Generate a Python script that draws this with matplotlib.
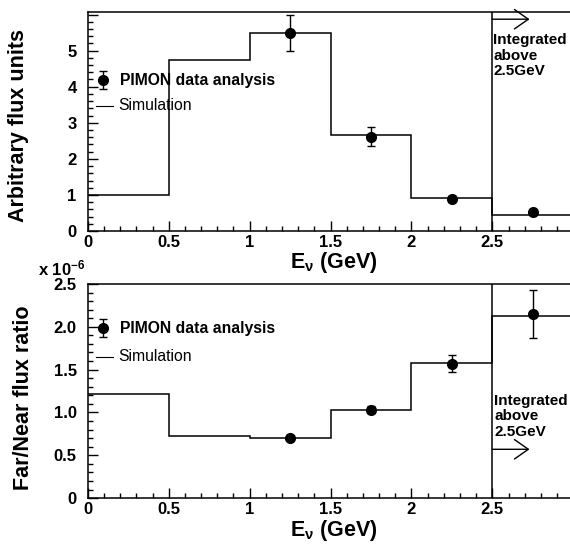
import matplotlib
matplotlib.use("Agg")
import matplotlib.pyplot as plt
from matplotlib.ticker import MultipleLocator, FuncFormatter

plt.rcParams['font.family'] = ['Liberation Sans', 'DejaVu Sans']
plt.rcParams['mathtext.fontset'] = 'custom'
plt.rcParams['mathtext.rm'] = 'Liberation Sans'
plt.rcParams['mathtext.bf'] = 'Liberation Sans:bold'
plt.rcParams['mathtext.it'] = 'Liberation Sans:italic'

# Data
bin_edges = [0.0, 0.5, 1.0, 1.5, 2.0, 2.5, 3.0]
flux_sim = [1.0, 4.74, 5.5, 2.66, 0.91, 0.44]
flux_data_x = [1.25, 1.75, 2.25, 2.75]
flux_data_y = [5.48, 2.62, 0.88, 0.52]
flux_data_err = [0.5, 0.25, 0.08, 0.07]

ratio_sim = [1.22, 0.73, 0.70, 1.03, 1.58, 2.13]   # x 1e-6
ratio_data_x = [1.25, 1.75, 2.25, 2.75]
ratio_data_y = [0.70, 1.03, 1.57, 2.15]            # x 1e-6
ratio_data_err = [0.02, 0.04, 0.10, 0.28]

legend_labels = ['PIMON data analysis', 'Simulation']

fig = plt.figure(figsize=(5.70, 5.45), dpi=100)
ax1 = fig.add_axes([0.154, 0.576, 0.846, 0.402])
ax2 = fig.add_axes([0.154, 0.086, 0.846, 0.393])

def style(ax, ymajor, yminor, yfmt):
    ax.set_xlim(0, 2.98)
    ax.xaxis.set_major_locator(MultipleLocator(0.5))
    ax.xaxis.set_minor_locator(MultipleLocator(0.1))
    ax.yaxis.set_major_locator(MultipleLocator(ymajor))
    ax.yaxis.set_minor_locator(MultipleLocator(yminor))
    ax.xaxis.set_major_formatter(FuncFormatter(lambda v, p: '%g' % v))
    ax.yaxis.set_major_formatter(FuncFormatter(yfmt))
    ax.tick_params(which='both', direction='in', top=False, right=False, width=1.0)
    ax.tick_params(which='major', length=7, labelsize=12)
    ax.tick_params(which='minor', length=3.6)
    ax.tick_params(axis='x', which='major', pad=2.5)
    ax.tick_params(axis='y', which='major', pad=8)
    ax.spines['right'].set_visible(False)
    for s in ['left', 'bottom', 'top']:
        ax.spines[s].set_linewidth(1.1)
    for lab in ax.get_xticklabels() + ax.get_yticklabels():
        lab.set_fontweight('bold')

def legend(ax, y1, y2):
    ax.errorbar([0.032], [y1], yerr=[0.04], fmt='o', color='black', ms=7,
                capsize=3, elinewidth=1, capthick=1, transform=ax.transAxes, clip_on=False)
    ax.text(0.066, y1, legend_labels[0], transform=ax.transAxes, fontsize=11.3,
            fontweight='bold', va='center', ha='left')
    ax.plot([0.018, 0.052], [y2, y2], color='black', lw=0.8, transform=ax.transAxes)
    ax.text(0.064, y2, legend_labels[1], transform=ax.transAxes, fontsize=11.3,
            va='center', ha='left')

arrow_kw = dict(arrowstyle='->,head_length=0.5,head_width=0.35', color='black', lw=1,
                mutation_scale=20, shrinkA=0, shrinkB=0)

xlabel_text = r'$\mathbf{E}_{\mathbf{\nu}}$ (GeV)'

# Top panel
ax1.stairs(flux_sim, bin_edges, color='black', lw=1.1, baseline=None)
ax1.errorbar(flux_data_x, flux_data_y, yerr=flux_data_err, fmt='o', color='black',
             ms=7, capsize=3, elinewidth=1, capthick=1)
ax1.axvline(2.5, color='black', lw=1.1)
ax1.set_ylim(0, 6.07)
style(ax1, 1, 0.2, lambda v, p: '' if v > 5.5 else '%d' % v)
ax1.annotate('', xy=(2.73, 5.87), xytext=(2.5, 5.87), arrowprops=arrow_kw)
ax1.text(2.507, 5.48, 'Integrated\nabove\n2.5GeV', fontsize=11, fontweight='bold',
         va='top', ha='left', linespacing=1.12)
legend(ax1, 0.689, 0.571)
fig.text(0.033, 0.769, 'Arbitrary flux units', fontsize=15.5, fontweight='bold',
         rotation=90, ha='center', va='center')
fig.text(0.586, 0.509, xlabel_text, fontsize=15.5, fontweight='bold',
         ha='center', va='baseline')

# Bottom panel
ax2.stairs(ratio_sim, bin_edges, color='black', lw=1.1, baseline=None)
ax2.errorbar(ratio_data_x, ratio_data_y, yerr=ratio_data_err, fmt='o', color='black',
             ms=7, capsize=3, elinewidth=1, capthick=1)
ax2.axvline(2.5, color='black', lw=1.1)
ax2.set_ylim(0, 2.5)
style(ax2, 0.5, 0.1, lambda v, p: '0' if v == 0 else '%.1f' % v)
ax2.annotate('', xy=(2.73, 0.57), xytext=(2.5, 0.57), arrowprops=arrow_kw)
ax2.text(2.512, 1.215, 'Integrated\nabove\n2.5GeV', fontsize=11, fontweight='bold',
         va='top', ha='left', linespacing=1.12)
legend(ax2, 0.794, 0.659)
fig.text(0.042, 0.27, 'Far/Near flux ratio', fontsize=15.5, fontweight='bold',
         rotation=90, ha='center', va='center')
fig.text(0.586, 0.016, xlabel_text, fontsize=15.5, fontweight='bold',
         ha='center', va='baseline')
fig.text(0.066, 0.494, r'x 10$^{\mathbf{-6}}$', fontsize=12, fontweight='bold',
         ha='left', va='baseline')

fig.savefig('out.png', dpi=100)
